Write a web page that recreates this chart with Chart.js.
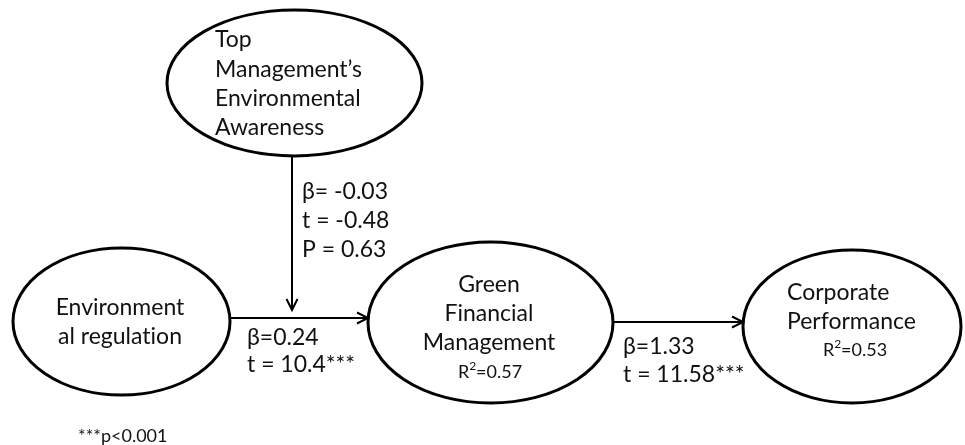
<!DOCTYPE html>
<html>
<head>
<meta charset="utf-8">
<script src="https://cdn.jsdelivr.net/npm/chart.js@4.4.1/dist/chart.umd.min.js"></script>
<style>
  html, body { margin: 0; padding: 0; background: #fff; }
</style>
</head>
<body>
<canvas id="canvas_path" width="965" height="445"></canvas>
<script>
// constructs of the model and the text shown in each ellipse
var constructs = ["Top Management's Environmental Awareness", "Environmental regulation", "Green Financial Management", "Corporate Performance"];
var constructLines = [
    ["Top", "Management\u2019s", "Environmental", "Awareness"],
    ["Environment", "al regulation"],
    ["Green", "Financial", "Management"],
    ["Corporate", "Performance"]
];
var rSquared = [null, null, 0.57, 0.53];

// paths: moderation (0 -> path 1), 1 -> 2, 2 -> 3
var pathNames = ["moderation", "regulation -> GFM", "GFM -> performance"];
var betas = [-0.03, 0.24, 1.33];
var tValues = [-0.48, 10.4, 11.58];
var pValues = [0.63, null, null];
var stars = ["", "***", "***"];
var footnote = "***p<0.001";

// layout, in page units (axes run 0..965 and 0..445)
var ellipses = [
    { cx: 294.5, cy: 83, rx: 127.5, ry: 73 },
    { cx: 121.5, cy: 321.5, rx: 108.5, ry: 73.5 },
    { cx: 490.5, cy: 322.5, rx: 122.5, ry: 80.5 },
    { cx: 852, cy: 326.5, rx: 109, ry: 76.5 }
];
var textPos = [
    { x: 215, y: [40, 70, 99, 128], align: "left" },
    { x: 120, y: [308, 337], align: "center" },
    { x: 489, y: [285, 314, 343], align: "center", r2: [490, 372] },
    { x: 787, y: [293, 322], align: "left", r2: [855, 350] }
];
var arrows = [
    [{ x: 292, y: 156 }, { x: 292, y: 310 }],
    [{ x: 230, y: 318 }, { x: 368, y: 318 }],
    [{ x: 613, y: 322 }, { x: 743, y: 322 }]
];
var pathLabelPos = [
    { x: 302, y: [192, 221, 250] },
    { x: 247, y: [338, 365] },
    { x: 623, y: [347, 375] }
];

var FONT = "Lato, 'Open Sans', sans-serif";
var INK = "#111";

// keep Lato from joining "ti"
function noLig(s) { return s.replace(/ti/g, "t\u200Ci"); }

function pathLines(i) {
    var b = betas[i] < 0 ? "\u03b2= " + betas[i] : "\u03b2=" + betas[i];
    var out = [b, "t = " + tValues[i] + stars[i]];
    if (pValues[i] !== null) out.push("P = " + pValues[i]);
    return out;
}

var diagramPlugin = {
    id: 'diagram',
    beforeDatasetsDraw: function(chart) {
        var ctx = chart.ctx, xs = chart.scales.x, ys = chart.scales.y;
        ctx.save();
        ctx.lineWidth = 3;
        ctx.strokeStyle = "#000";
        ctx.fillStyle = "#fff";
        ellipses.forEach(function(e) {
            var cx = xs.getPixelForValue(e.cx), cy = ys.getPixelForValue(e.cy);
            var rx = Math.abs(xs.getPixelForValue(e.cx + e.rx) - cx);
            var ry = Math.abs(ys.getPixelForValue(e.cy + e.ry) - cy);
            ctx.beginPath();
            ctx.ellipse(cx, cy, rx, ry, 0, 0, Math.PI * 2);
            ctx.fill();
            ctx.stroke();
        });
        ctx.restore();
    },
    afterDatasetsDraw: function(chart) {
        var ctx = chart.ctx, xs = chart.scales.x, ys = chart.scales.y;
        ctx.save();
        // arrow heads
        ctx.strokeStyle = "#000";
        ctx.lineWidth = 2;
        arrows.forEach(function(a) {
            var x0 = xs.getPixelForValue(a[0].x), y0 = ys.getPixelForValue(a[0].y);
            var x1 = xs.getPixelForValue(a[1].x), y1 = ys.getPixelForValue(a[1].y);
            var ang = Math.atan2(y1 - y0, x1 - x0);
            var len = 11, half = 5.5;
            ctx.beginPath();
            ctx.moveTo(x1 - len * Math.cos(ang) + half * Math.sin(ang), y1 - len * Math.sin(ang) - half * Math.cos(ang));
            ctx.lineTo(x1, y1);
            ctx.lineTo(x1 - len * Math.cos(ang) - half * Math.sin(ang), y1 - len * Math.sin(ang) + half * Math.cos(ang));
            ctx.stroke();
        });

        ctx.fillStyle = INK;
        ctx.textBaseline = "middle";
        // construct names
        constructLines.forEach(function(lines, i) {
            var p = textPos[i];
            ctx.font = "23px " + FONT;
            ctx.textAlign = p.align;
            lines.forEach(function(s, k) {
                ctx.fillText(noLig(s), xs.getPixelForValue(p.x), ys.getPixelForValue(p.y[k]));
            });
            if (rSquared[i] !== null) {
                var rx = xs.getPixelForValue(p.r2[0]), ry = ys.getPixelForValue(p.r2[1]);
                var a = "R", b = "=" + rSquared[i];
                ctx.font = "18px " + FONT;
                var wa = ctx.measureText(a).width;
                var wb = ctx.measureText(b).width;
                ctx.font = "12px " + FONT;
                var ws = ctx.measureText("2").width;
                var left = rx - (wa + ws + wb) / 2;
                ctx.textAlign = "left";
                ctx.font = "18px " + FONT;
                ctx.fillText(a, left, ry);
                ctx.fillText(b, left + wa + ws, ry);
                ctx.font = "12px " + FONT;
                ctx.fillText("2", left + wa, ry - 6);
            }
        });
        // path coefficients
        ctx.textAlign = "left";
        ctx.font = "23px " + FONT;
        pathLabelPos.forEach(function(p, i) {
            pathLines(i).forEach(function(s, k) {
                ctx.fillText(s, xs.getPixelForValue(p.x), ys.getPixelForValue(p.y[k]));
            });
        });
        // footnote
        ctx.font = "18px " + FONT;
        ctx.fillText(footnote, xs.getPixelForValue(78), ys.getPixelForValue(436));
        ctx.restore();
    }
};

var ctx = document.getElementById("canvas_path");
var pathChart = new Chart(ctx, {
    type: 'scatter',
    data: {
        datasets: arrows.map(function(a, i) {
            return {
                label: pathNames[i],
                data: a,
                showLine: true,
                borderColor: "#000",
                borderWidth: 2,
                pointRadius: 0,
                fill: false
            };
        })
    },
    options: {
        responsive: false,
        animation: false,
        layout: { padding: 0 },
        scales: {
            x: { type: 'linear', min: 0, max: 965, display: false },
            y: { type: 'linear', min: 0, max: 445, reverse: true, display: false }
        },
        plugins: {
            legend: { display: false },
            tooltip: { enabled: false }
        }
    },
    plugins: [diagramPlugin]
});
</script>
</body>
</html>
